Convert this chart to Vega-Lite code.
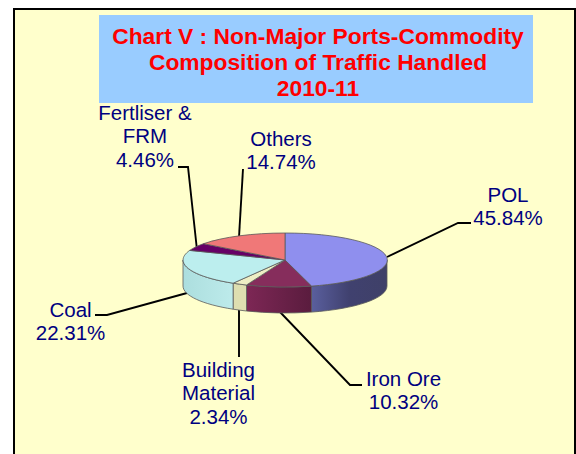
{
"$schema":"https://vega.github.io/schema/vega-lite/v6.json",
"width":576,"height":454,"padding":0,"autosize":{"type":"none"},
"background":"white",
"config":{"view":{"stroke":null}},
"title":{"text":["Chart V : Non-Major Ports-Commodity","Composition  of Traffic Handled","2010-11"],"font":"Liberation Sans","fontSize":22.8,"fontWeight":"bold","color":"#FF0000","anchor":"middle","frame":"group","baseline":"alphabetic","lineHeight":26,"offset":0,"dx":30,"dy":119},
"datasets":{"slices":[
{"commodity":"POL","label":"POL\n45.84%","value":45.84},
{"commodity":"Iron Ore","label":"Iron Ore\n10.32%","value":10.32},
{"commodity":"Building Material","label":"Building\nMaterial\n2.34%","value":2.34},
{"commodity":"Coal","label":"Coal\n22.31%","value":22.31},
{"commodity":"Fertliser & FRM","label":"Fertliser &\nFRM\n4.46%","value":4.46},
{"commodity":"Others","label":"Others\n14.74%","value":14.74}
]},
"layer":[
{"data":{"values":[{"element":"panel"}]},
 "mark":{"type":"point","filled":true,"size":4,"opacity":1,"fill":"#FFFFCC","stroke":"#000000","strokeWidth":2,"shape":"M-274,240 L-274,-218 L287,-218 L287,240 Z"}},
{"data":{"values":[{"element":"title box"}]},
 "mark":{"type":"point","filled":true,"size":4,"opacity":1,"fill":"#99CCFF","strokeWidth":0,"shape":"M-189,-212 L245,-212 L245,-124 L-189,-124 Z"}},
{"data":{"name":"slices"},
 "mark":{"type":"point","filled":false,"size":4,"opacity":1,"stroke":"#000000","strokeWidth":1.9,"fill":null},
 "encoding":{"shape":{"field":"commodity","type":"nominal","legend":null,"scale":{"domain":["POL","Iron Ore","Building Material","Coal","Fertliser & FRM","Others"],"range":[
  "M183,-4 L170,-4 L99,30","M74,158 L62,158 L-8,85","M-49,130 L-49,81","M-193,88 L-181,88 L-101,66","M-110,-60 L-100,-60 L-91,23","M-45,-58 L-49,10"]}}}},
{"data":{"name":"slices"},
 "transform":[{"filter":{"field":"commodity","equal":"POL"}}],
 "mark":{"type":"point","filled":true,"size":4,"opacity":1,"stroke":"#5A5A5A","strokeWidth":0.8,"shape":"M99,33 A102,27 0 0 1 23.4,59.1 L23.4,85.1 A102,27 0 0 0 99,59 Z",
  "fill":{"gradient":"linear","x1":0,"x2":1,"y1":0,"y2":0,"stops":[{"offset":0,"color":"#5A5F9E"},{"offset":0.5,"color":"#40416F"},{"offset":1,"color":"#3F4068"}]}}},
{"data":{"name":"slices"},
 "transform":[{"filter":{"field":"commodity","equal":"Iron Ore"}}],
 "mark":{"type":"point","filled":true,"size":4,"opacity":1,"stroke":"#5A5A5A","strokeWidth":0.8,"shape":"M23.4,59.1 A102,27 0 0 1 -41.5,58 L-41.5,84 A102,27 0 0 0 23.4,85.1 Z",
  "fill":{"gradient":"linear","x1":0,"x2":1,"y1":0,"y2":0,"stops":[{"offset":0,"color":"#7D2755"},{"offset":1,"color":"#5A1C3E"}]}}},
{"data":{"name":"slices"},
 "transform":[{"filter":{"field":"commodity","equal":"Building Material"}}],
 "mark":{"type":"point","filled":true,"size":4,"opacity":1,"stroke":"#5A5A5A","strokeWidth":0.8,"fill":"#DEDEB0","shape":"M-41.5,58 A102,27 0 0 1 -54.9,56.2 L-54.9,82.2 A102,27 0 0 0 -41.5,84 Z"}},
{"data":{"name":"slices"},
 "transform":[{"filter":{"field":"commodity","equal":"Coal"}}],
 "mark":{"type":"point","filled":true,"size":4,"opacity":1,"stroke":"#5A5A5A","strokeWidth":0.8,"shape":"M-54.9,56.2 A102,27 0 0 1 -105,33 L-105,59 A102,27 0 0 0 -54.9,82.2 Z",
  "fill":{"gradient":"linear","x1":0,"x2":1,"y1":0,"y2":0,"stops":[{"offset":0,"color":"#ACDEDE"},{"offset":1,"color":"#BDEBEB"}]}}},
{"data":{"name":"slices"},
 "mark":{"type":"point","filled":true,"size":4,"opacity":1,"stroke":"#5A5A5A","strokeWidth":0.8},
 "encoding":{
  "shape":{"field":"commodity","type":"nominal","legend":null,"scale":{"domain":["POL","Iron Ore","Building Material","Coal","Fertliser & FRM","Others"],"range":[
   "M-3,33 L-3,6 A102,27 0 0 1 23.4,59.1 Z",
   "M-3,33 L23.4,59.1 A102,27 0 0 1 -41.5,58 Z",
   "M-3,33 L-41.5,58 A102,27 0 0 1 -54.9,56.2 Z",
   "M-3,33 L-54.9,56.2 A102,27 0 0 1 -98.3,23.4 Z",
   "M-3,33 L-98.3,23.4 A102,27 0 0 1 -84.5,16.7 Z",
   "M-3,33 L-84.5,16.7 A102,27 0 0 1 -3,6 Z"]}},
  "fill":{"field":"commodity","type":"nominal","legend":null,"scale":{"domain":["POL","Iron Ore","Building Material","Coal","Fertliser & FRM","Others"],"range":["#8F8FEE","#862D5C","#EEEEC4","#BCEEEE","#660066","#F07878"]}}}},
{"data":{"name":"slices"},
 "mark":{"type":"text","font":"Liberation Sans","fontSize":20.5,"color":"#000080","align":"center","baseline":"alphabetic","lineBreak":"\n","lineHeight":23.3},
 "encoding":{
  "text":{"field":"label","type":"nominal"},
  "x":{"field":"value","type":"quantitative","axis":null,"scale":{"domain":[2.34,4.46,10.32,14.74,22.31,45.84],"range":[218.5,145,403.5,281,70.5,508],"nice":false,"zero":false}},
  "y":{"field":"value","type":"quantitative","axis":null,"scale":{"domain":[2.34,4.46,10.32,14.74,22.31,45.84],"range":[377,120,386,146,317,202],"nice":false,"zero":false}}}}
],
"resolve":{"scale":{"shape":"independent","fill":"independent"}}
}
